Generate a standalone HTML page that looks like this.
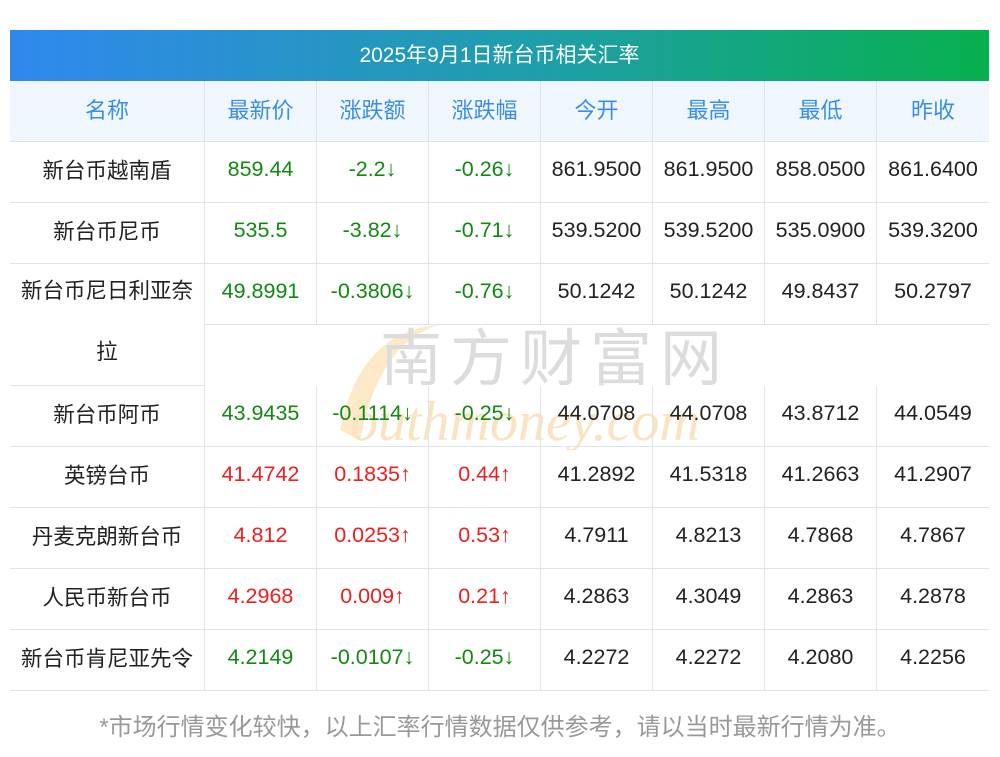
<!DOCTYPE html>
<html><head><meta charset="utf-8">
<style>
body{margin:0;width:1000px;height:757px;background:#fff;position:relative;overflow:hidden;font-family:"Liberation Sans","Noto Sans CJK SC",sans-serif;}
.c{position:absolute;box-sizing:border-box;display:flex;align-items:center;justify-content:center;font-size:21.5px;color:#222;padding-bottom:5px;}
#title{position:absolute;left:10px;top:30px;width:979px;height:51px;background:linear-gradient(90deg,#3088ee,#1e9fa8 55%,#07b04e);color:#fff;font-size:21px;display:flex;align-items:center;justify-content:center;padding-bottom:4px;box-sizing:border-box;}
.h{background:#f0f6fe;color:#3a8ee6;font-size:22px;}
.g{color:#118a11}.r{color:#f21d1d}
#wm{position:absolute;left:300px;top:310px;width:460px;height:140px;pointer-events:none;}
#foot{position:absolute;left:0;width:1000px;top:707px;text-align:center;font-size:24px;color:#999;}
.blk{display:block;text-align:center;line-height:61px;}
</style></head><body>
<div id="title">2025年9月1日新台币相关汇率</div>
<svg id="wm" viewBox="0 0 460 140">
<path d="M40 120 Q60 20 140 15 Q80 30 60 130 Z" fill="#fde9c8"/>
<text x="80" y="70" font-size="62" fill="#dcdcdc" font-family="Noto Sans CJK SC,sans-serif" letter-spacing="8">南方财富网</text>
<text x="50" y="130" font-size="56" font-style="italic" fill="#fbe3c2" font-family="Liberation Serif,serif">outhmoney.com</text>
</svg>
<div id="foot">*市场行情变化较快，以上汇率行情数据仅供参考，请以当时最新行情为准。</div>
<script>
const headers=["名称","最新价","涨跌额","涨跌幅","今开","最高","最低","昨收"];
const rows=[
["新台币越南盾","859.44","-2.2↓","-0.26↓","861.9500","861.9500","858.0500","861.6400"],
["新台币尼币","535.5","-3.82↓","-0.71↓","539.5200","539.5200","535.0900","539.3200"],
["新台币尼日利亚奈拉","49.8991","-0.3806↓","-0.76↓","50.1242","50.1242","49.8437","50.2797"],
["新台币阿币","43.9435","-0.1114↓","-0.25↓","44.0708","44.0708","43.8712","44.0549"],
["英镑台币","41.4742","0.1835↑","0.44↑","41.2892","41.5318","41.2663","41.2907"],
["丹麦克朗新台币","4.812","0.0253↑","0.53↑","4.7911","4.8213","4.7868","4.7867"],
["人民币新台币","4.2968","0.009↑","0.21↑","4.2863","4.3049","4.2863","4.2878"],
["新台币肯尼亚先令","4.2149","-0.0107↓","-0.25↓","4.2272","4.2272","4.2080","4.2256"]
];
const xs=[10,205,317,429,541,653,765,877,989];
const B="1px solid #e0e3ea";
function cell(x,y,w,h,cls){
  const d=document.createElement('div');
  d.className='c '+(cls||'');
  d.style.left=x+'px';d.style.top=y+'px';d.style.width=w+'px';d.style.height=h+'px';
  document.body.appendChild(d);return d;
}
let y=81;
headers.forEach((t,i)=>{
  const d=cell(xs[i],y,xs[i+1]-xs[i],61,'h');
  d.textContent=t;
  d.style.borderBottom=B; if(i<7)d.style.borderRight=B;
  
  
});
y=142;
rows.forEach((r,ri)=>{
  const tall=r[0].length>8;
  const up=r[2].indexOf('↑')>=0;
  r.forEach((t,i)=>{
    const h=(i==0&&tall)?122:61;
    let cls=''; if(i>=1&&i<=3)cls=up?'r':'g';
    const d=cell(xs[i],y,xs[i+1]-xs[i],h,cls);
    if(i==0&&tall){
      d.style.display='block';d.style.paddingBottom='0';
      const a=document.createElement('span');a.className='blk';a.textContent=t.slice(0,8);
      const b=document.createElement('span');b.className='blk';b.textContent=t.slice(8);
      a.style.marginTop='-3px';
      d.appendChild(a);d.appendChild(b);
    } else d.textContent=t;
    d.style.borderBottom=B; if(i<7)d.style.borderRight=B;
    
    
  });
  y+=tall?122:61;
});
</script>
</body></html>
